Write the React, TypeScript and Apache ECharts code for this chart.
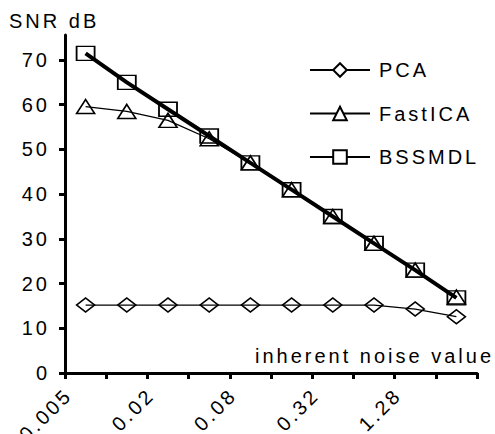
import React, { useEffect, useRef } from 'react';
import * as echarts from 'echarts';

// Category slots (tick-interval centres along the noise axis)
const slotPositions = [0.5, 1.5, 2.5, 3.5, 4.5, 5.5, 6.5, 7.5, 8.5, 9.5];
const pcaValues = [15.2, 15.2, 15.2, 15.2, 15.2, 15.2, 15.2, 15.2, 14.3, 12.6];
const fastIcaValues = [59.6, 58.5, 56.5, 52.4, 47, 41, 35, 29, 23, 17];
const bssmdlValues = [71.5, 65, 59, 53, 47, 41, 35, 29, 23, 16.8];
const xTickPositions = [0, 2, 4, 6, 8];
const xTickLabels = ['0.005', '0.02', '0.08', '0.32', '1.28'];
const yTickValues = [0, 10, 20, 30, 40, 50, 60, 70];
const seriesNames = ['PCA', 'FastICA', 'BSSMDL'];

export default function App() {
  const ref = useRef<HTMLDivElement>(null);
  useEffect(() => {
    const chart = echarts.init(ref.current!, null, { renderer: 'svg' });
    const font = "'Liberation Sans', Arial, sans-serif";
    const fs = 20;
    const mk = (vals: number[]) => slotPositions.map((x, i) => [x, vals[i]]);
    const black = '#000';
    chart.setOption({
      animation: false,
      backgroundColor: '#fff',
      textStyle: { fontFamily: font, color: black },
      grid: { left: 65, right: 18, top: 35, bottom: 61, containLabel: false, outerBoundsMode: 'none' },
      xAxis: {
        type: 'value',
        min: 0,
        max: 10,
        interval: 1,
        axisLine: { lineStyle: { color: black, width: 3 } },
        axisTick: { length: 6, lineStyle: { width: 3, color: black } },
        axisLabel: {
          customValues: xTickPositions,
          rotate: 45,
          margin: 22,
          padding: [0, -5, 0, 0],
          fontSize: fs,
          color: black,
          fontFamily: font,
          formatter: (v: number) => {
            const i = xTickPositions.indexOf(v);
            return i >= 0 ? xTickLabels[i] : '';
          },
        },
        splitLine: { show: false },
      },
      yAxis: {
        type: 'value',
        min: 0,
        max: 75.6,
        interval: 10,
        axisLine: { show: true, lineStyle: { color: black, width: 3 } },
        axisTick: { show: true, customValues: yTickValues, length: 6, lineStyle: { width: 3, color: black } },
        axisLabel: {
          customValues: yTickValues,
          margin: 15,
          fontSize: fs,
          color: black,
          fontFamily: font,
        },
        splitLine: { show: false },
      },
      legend: {
        orient: 'vertical',
        left: 304,
        top: 55,
        itemWidth: 60,
        itemHeight: 17,
        itemGap: 23.5,
        selectedMode: false,
        textStyle: { fontSize: fs, color: black, fontFamily: font, padding: [0, 0, 0, 4] },
        data: seriesNames.map((n) => ({ name: n, itemStyle: { color: '#fff' } })),
      },
      series: [
        {
          name: seriesNames[0],
          type: 'line',
          data: mk(pcaValues),
          symbol: 'diamond',
          symbolSize: [18, 14],
          lineStyle: { color: black, width: 1.3 },
          itemStyle: { color: 'transparent', borderColor: black, borderWidth: 1.6 },
        },
        {
          name: seriesNames[1],
          type: 'line',
          data: mk(fastIcaValues),
          symbol: 'triangle',
          symbolSize: [18, 14],
          lineStyle: { color: black, width: 1.3 },
          itemStyle: { color: 'transparent', borderColor: black, borderWidth: 1.6 },
        },
        {
          name: seriesNames[2],
          type: 'line',
          data: mk(bssmdlValues),
          symbol: 'rect',
          symbolSize: [18, 14],
          lineStyle: { color: black, width: 4 },
          itemStyle: { color: 'transparent', borderColor: black, borderWidth: 1.6 },
        },
      ],
      graphic: [
        {
          type: 'text',
          left: 9,
          top: 11,
          style: { text: 'SNR dB', font: `${fs}px ${font}`, fill: black },
        },
        {
          type: 'text',
          left: 255,
          top: 346,
          style: { text: 'inherent noise value', font: `${fs}px ${font}`, fill: black },
        },
      ],
    });
    return () => chart.dispose();
  }, []);
  return (
    <>
      <style>{`body { margin: 0; } #root svg text { letter-spacing: 3px; }`}</style>
      <div ref={ref} style={{ width: 495, height: 434 }} />
    </>
  );
}
